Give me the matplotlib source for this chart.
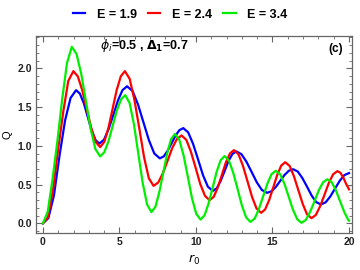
#!/usr/bin/env python3

import numpy as np
import matplotlib
matplotlib.use('Agg')
import matplotlib.pyplot as plt
from matplotlib.ticker import MultipleLocator

# values
r0_e19 = [0, 0.36, 0.72, 1.09, 1.45, 1.81, 2.17,
          2.42, 2.68, 2.93, 3.18, 3.44, 3.69,
          3.99, 4.29, 4.60, 4.90, 5.20, 5.50,
          5.86, 6.21, 6.57, 6.93, 7.28, 7.64,
          7.90, 8.15, 8.41, 8.66, 8.92, 9.17,
          9.49, 9.81, 10.14, 10.46, 10.78, 11.10,
          11.36, 11.61, 11.87, 12.12, 12.38, 12.63,
          12.97, 13.30, 13.64, 13.98, 14.31, 14.65,
          14.93, 15.22, 15.50, 15.78, 16.07, 16.35,
          16.65, 16.95, 17.26, 17.56, 17.86, 18.16,
          18.47, 18.77, 19.08, 19.39, 19.69, 20.0]
q_e19 = [0, 0.07, 0.36, 0.88, 1.33, 1.62, 1.72,
         1.674, 1.548, 1.375, 1.203, 1.076, 1.03,
         1.080, 1.215, 1.40, 1.585, 1.720, 1.77,
         1.708, 1.538, 1.305, 1.073, 0.902, 0.84,
         0.866, 0.938, 1.035, 1.133, 1.204, 1.23,
         1.176, 1.028, 0.825, 0.623, 0.474, 0.42,
         0.454, 0.548, 0.675, 0.803, 0.896, 0.93,
         0.894, 0.796, 0.663, 0.529, 0.431, 0.395,
         0.415, 0.471, 0.548, 0.624, 0.680, 0.70,
         0.670, 0.586, 0.473, 0.359, 0.275, 0.245,
         0.272, 0.346, 0.448, 0.549, 0.623, 0.65]

r0_e24 = [0, 0.33, 0.66, 1.00, 1.33, 1.66, 1.99,
          2.28, 2.57, 2.865, 3.16, 3.45, 3.74,
          4.01, 4.28, 4.55, 4.82, 5.09, 5.36,
          5.67, 5.98, 6.30, 6.61, 6.92, 7.23,
          7.54, 7.84, 8.15, 8.45, 8.76, 9.06,
          9.37, 9.67, 9.98, 10.28, 10.59, 10.89,
          11.16, 11.42, 11.69, 11.95, 12.22, 12.48,
          12.78, 13.07, 13.37, 13.67, 13.96, 14.26,
          14.52, 14.78, 15.05, 15.31, 15.57, 15.83,
          16.12, 16.40, 16.69, 16.98, 17.26, 17.55,
          17.83, 18.11, 18.40, 18.68, 18.96, 19.24,
          19.43, 19.62, 19.81, 20.0]
q_e24 = [0, 0.08, 0.43, 0.96, 1.44, 1.84, 1.965,
         1.899, 1.72, 1.475, 1.23, 1.051, 0.985,
         1.051, 1.23, 1.475, 1.72, 1.899, 1.965,
         1.866, 1.595, 1.225, 0.855, 0.584, 0.485,
         0.529, 0.648, 0.81, 0.973, 1.091, 1.135,
         1.079, 0.926, 0.718, 0.509, 0.356, 0.30,
         0.343, 0.462, 0.623, 0.785, 0.903, 0.946,
         0.892, 0.744, 0.542, 0.339, 0.192, 0.137,
         0.181, 0.30, 0.464, 0.627, 0.746, 0.79,
         0.742, 0.61, 0.429, 0.249, 0.116, 0.068,
         0.109, 0.22, 0.372, 0.523, 0.634, 0.675,
         0.655, 0.597, 0.51, 0.44]

r0_e34 = [0, 0.315, 0.63, 0.945, 1.26, 1.575, 1.89,
          2.20, 2.51, 2.815, 3.12, 3.43, 3.74,
          4.01, 4.29, 4.56, 4.83, 5.11, 5.38,
          5.665, 5.95, 6.235, 6.52, 6.805, 7.09,
          7.35, 7.60, 7.86, 8.12, 8.37, 8.63,
          8.91, 9.19, 9.47, 9.74, 10.02, 10.30,
          10.56, 10.82, 11.09, 11.35, 11.61, 11.87,
          12.15, 12.43, 12.72, 13.00, 13.28, 13.56,
          13.84, 14.11, 14.39, 14.67, 14.94, 15.22,
          15.50, 15.78, 16.06, 16.34, 16.62, 16.90,
          17.18, 17.46, 17.75, 18.03, 18.31, 18.59,
          18.87, 19.14, 19.42, 19.70, 19.97, 20.0]
q_e34 = [0, 0.15, 0.57, 1.06, 1.60, 2.07, 2.28,
         2.185, 1.926, 1.573, 1.219, 0.960, 0.865,
         0.918, 1.063, 1.26, 1.458, 1.602, 1.655,
         1.554, 1.278, 0.90, 0.523, 0.247, 0.146,
         0.214, 0.398, 0.65, 0.903, 1.087, 1.155,
         1.081, 0.879, 0.603, 0.326, 0.124, 0.05,
         0.105, 0.255, 0.46, 0.665, 0.815, 0.87,
         0.813, 0.658, 0.445, 0.233, 0.077, 0.02,
         0.064, 0.185, 0.35, 0.515, 0.636, 0.68,
         0.635, 0.512, 0.344, 0.176, 0.053, 0.008,
         0.046, 0.149, 0.289, 0.43, 0.532, 0.57,
         0.532, 0.428, 0.285, 0.143, 0.038, 0.035]

labels = ['E = 1.9', 'E = 2.4', 'E = 3.4']
colors = ['#0000ff', '#ff0000', '#00ee00']

plt.rcParams['font.family'] = ['Liberation Sans', 'DejaVu Sans']

fig = plt.figure(figsize=(3.6, 2.7), dpi=100)
ax = fig.add_axes([0.1, 0.138, 0.878, 0.729])

series = [(r0_e19, q_e19), (r0_e24, q_e24), (r0_e34, q_e34)]
for (x, y), lab, c in zip(series, labels, colors):
    ax.plot(x, y, color=c, lw=1.6, label=lab)

ax.set_xlim(-0.45, 20.2)
ax.set_ylim(-0.12, 2.42)
ax.xaxis.set_major_locator(MultipleLocator(5))
ax.xaxis.set_minor_locator(MultipleLocator(1))
ax.yaxis.set_major_locator(MultipleLocator(0.5))
ax.yaxis.set_minor_locator(MultipleLocator(0.1))
ax.set_xticks([0, 5, 10, 15, 20])
ax.set_xticklabels(['0', '5', '10', '15', '20'])
ax.set_yticks([0, 0.5, 1.0, 1.5, 2.0])
ax.set_yticklabels(['0.0', '0.5', '1.0', '1.5', '2.0'])
ax.tick_params(which='both', direction='in', top=True, right=True,
               color='#666666', labelsize=7.5, labelcolor='#222222', pad=3)
ax.tick_params(which='major', length=4, width=0.8)
ax.tick_params(which='minor', length=2, width=0.6)
for lbl in ax.get_xticklabels() + ax.get_yticklabels():
    lbl.set_fontweight('bold')
for sp in ax.spines.values():
    sp.set_color('#666666')
    sp.set_linewidth(0.9)

ax.set_xlabel(r'$r_0$', fontsize=9, labelpad=4)
ax.set_ylabel('Q', fontsize=8)
ax.yaxis.set_label_coords(-0.075, 0.5)

ax.text(3.75, 2.30, r'$\boldsymbol{\phi_i}$=0.5 , $\mathbf{\Delta_1}$=0.7',
        fontsize=9, fontweight='bold', va='center', ha='left')
ax.text(19.6, 2.25, '(c)', fontsize=8.5, fontweight='bold', va='center', ha='right')

fig.legend(loc='center', bbox_to_anchor=(0.5, 0.945), ncol=3, frameon=False,
           prop={'weight': 'bold', 'size': 9}, handlelength=1.0,
           handletextpad=0.9, columnspacing=0.9)

fig.savefig('out.png', dpi=100)
